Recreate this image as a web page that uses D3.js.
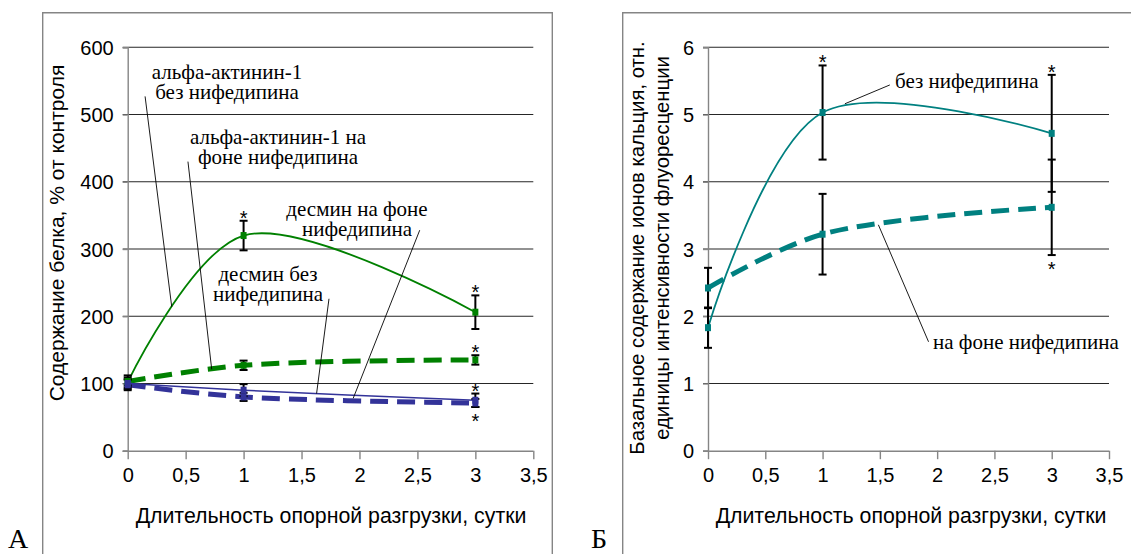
<!DOCTYPE html>
<html>
<head>
<meta charset="utf-8">
<script src="https://cdn.jsdelivr.net/npm/d3@7"></script>
<style>
  body { margin: 0; background: #fff; }
  svg { display: block; }
  .sans { font-family: Arial, "Liberation Sans", sans-serif; }
  .serif { font-family: "Times New Roman", "Liberation Serif", serif; }
</style>
</head>
<body>
<div id="chart"></div>
<script>
// --- data ---
const days = [0, 1, 3];
const xTicks = [0, 0.5, 1, 1.5, 2, 2.5, 3, 3.5];
const xTickLabels = ["0", "0,5", "1", "1,5", "2", "2,5", "3", "3,5"];

// panel A: protein content, % of control
const proteinTicks = [0, 100, 200, 300, 400, 500, 600];
const actininNo = [102, 320, 206];
const actininNoErr = [10, 22, 25];
const actininNif = [103, 127, 135];
const actininNifErr = [6, 7, 7];
const desminNo = [100, 90, 75];
const desminNoErr = [6, 9, 10];
const desminNif = [98, 80, 71];
const desminNifErr = [8, 6, 6];

// panel B: basal calcium, relative fluorescence units
const calciumTicks = [0, 1, 2, 3, 4, 5, 6];
const calciumNo = [1.83, 5.03, 4.72];
const calciumNoErr = [0.3, 0.7, 0.87];
const calciumNif = [2.42, 3.22, 3.62];
const calciumNifErr = [0.3, 0.6, 0.71];

const xTitle = "Длительность опорной разгрузки, сутки";

const W = 1131, H = 554;
const svg = d3.select("#chart").append("svg")
  .attr("width", W).attr("height", H)
  .attr("viewBox", `0 0 ${W} ${H}`);

svg.append("rect").attr("width", W).attr("height", H).attr("fill", "#fff");

const axisGray = "#858585";

function buildPanel(cfg) {
  const x = d3.scaleLinear().domain([0, 3.5]).range([cfg.x0, cfg.x1]);
  const y = d3.scaleLinear().domain(cfg.yDomain).range([450.7, 47.3]);
  const g = svg.append("g");

  // frame
  g.append("path")
    .attr("d", cfg.frame)
    .attr("fill", "none")
    .attr("stroke", axisGray)
    .attr("stroke-width", 1.4);

  // grid lines
  g.selectAll(".grid")
    .data(cfg.yTicks.slice(1))
    .enter()
    .append("line")
    .attr("x1", x(0) - 5)
    .attr("x2", x(3.5))
    .attr("y1", d => y(d))
    .attr("y2", d => y(d))
    .attr("stroke", "#262626")
    .attr("stroke-width", 1.1);

  // y axis
  const yAxis = g.append("g")
    .attr("transform", `translate(${x(0)},0)`)
    .call(d3.axisLeft(y).tickValues(cfg.yTicks).tickSize(5).tickPadding(9).tickFormat(cfg.yFormat));
  yAxis.select(".domain").attr("stroke", axisGray).attr("stroke-width", 1.4);
  yAxis.selectAll(".tick line").attr("stroke", axisGray).attr("stroke-width", 1.4);
  yAxis.selectAll("text")
    .attr("class", "sans")
    .style("font-size", "20px")
    .attr("fill", "#000")
    .attr("dy", "0.36em");

  // x axis
  const xAxis = g.append("g")
    .attr("transform", `translate(0,${y(0)})`)
    .call(d3.axisBottom(x).tickValues(xTicks).tickSize(8.5).tickPadding(9)
      .tickFormat((d, i) => xTickLabels[i]));
  xAxis.select(".domain").attr("stroke", axisGray).attr("stroke-width", 1.4)
    .attr("d", `M${x(0) - 5},0.5H${x(3.5)}`);
  xAxis.selectAll(".tick line").attr("stroke", axisGray).attr("stroke-width", 1.4);
  xAxis.selectAll("text")
    .attr("class", "sans")
    .style("font-size", "20px")
    .attr("fill", "#000");

  // axis titles
  g.append("text")
    .attr("class", "sans")
    .attr("x", cfg.xTitleX)
    .attr("y", 523)
    .attr("text-anchor", "middle")
    .style("font-size", "21.3px")
    .text(xTitle);

  cfg.yTitle.forEach((t, i) => {
    g.append("text")
      .attr("class", "sans")
      .attr("transform", `translate(${cfg.yTitleX[i]},${cfg.yTitleY}) rotate(-90)`)
      .attr("text-anchor", "middle")
      .style("font-size", cfg.yTitleSize)
      .text(t);
  });

  // panel letter
  g.append("text")
    .attr("class", "serif")
    .attr("x", cfg.letterX)
    .attr("y", 548)
    .style("font-size", "28px")
    .text(cfg.letter);

  const line = d3.line()
    .x((d, i) => x(days[i]))
    .y(d => y(d))
    .curve(d3.curveCatmullRom.alpha(0.5));

  // series lines
  cfg.series.forEach(s => {
    g.append("path")
      .datum(s.values)
      .attr("d", line)
      .attr("fill", "none")
      .attr("stroke", s.color)
      .attr("stroke-width", s.width)
      .attr("stroke-dasharray", s.dash || null);
  });

  // error bars
  cfg.series.forEach(s => {
    const eb = g.selectAll(null)
      .data(s.values.map((v, i) => ({ x: days[i], v: v, e: s.err[i] })))
      .enter()
      .append("g")
      .attr("stroke", "#000")
      .attr("stroke-width", 2);
    eb.append("line")
      .attr("x1", d => x(d.x)).attr("x2", d => x(d.x))
      .attr("y1", d => y(d.v + d.e)).attr("y2", d => y(d.v - d.e));
    eb.append("line")
      .attr("x1", d => x(d.x) - 4).attr("x2", d => x(d.x) + 4)
      .attr("y1", d => y(d.v + d.e)).attr("y2", d => y(d.v + d.e));
    eb.append("line")
      .attr("x1", d => x(d.x) - 4).attr("x2", d => x(d.x) + 4)
      .attr("y1", d => y(d.v - d.e)).attr("y2", d => y(d.v - d.e));
  });

  // markers
  cfg.series.forEach(s => {
    g.selectAll(null)
      .data(s.values)
      .enter()
      .append("rect")
      .attr("x", (d, i) => x(days[i]) - 3)
      .attr("y", d => y(d) - 3.5)
      .attr("width", 6)
      .attr("height", 7)
      .attr("fill", s.color);
  });

  // significance asterisks
  cfg.stars.forEach(st => {
    const s = cfg.series[st.series];
    const i = days.indexOf(st.day);
    const above = st.pos === "above";
    const v = above ? s.values[i] + s.err[i] : s.values[i] - s.err[i];
    g.append("text")
      .attr("class", "sans")
      .attr("x", x(st.day))
      .attr("y", y(v) + (above ? 4 : 21))
      .attr("text-anchor", "middle")
      .style("font-size", "20px")
      .text("*");
  });

  // annotations with leader lines
  cfg.notes.forEach(n => {
    g.append("line")
      .attr("x1", x(n.from[0])).attr("y1", y(n.from[1]))
      .attr("x2", x(n.to[0])).attr("y2", y(n.to[1]))
      .attr("stroke", "#000")
      .attr("stroke-width", 0.9);
    const t = g.append("text")
      .attr("class", "serif")
      .attr("text-anchor", n.anchor || "middle")
      .style("font-size", "21px");
    n.lines.forEach((l, k) => {
      t.append("tspan")
        .attr("x", n.tx)
        .attr("y", n.ty + k * 19.5)
        .text(l);
    });
  });
}

buildPanel({
  x0: 127.7, x1: 533.3,
  yDomain: [0, 600], yTicks: proteinTicks, yFormat: d => d,
  frame: "M42.7,556V12.7H552.3V556",
  xTitleX: 331,
  yTitle: ["Содержание белка, % от контроля"],
  yTitleX: [64], yTitleY: 233, yTitleSize: "21px",
  letter: "А", letterX: 8,
  series: [
    { values: actininNo, err: actininNoErr, color: "#008000", width: 1.8 },
    { values: actininNif, err: actininNifErr, color: "#008000", width: 5, dash: "18 9" },
    { values: desminNo, err: desminNoErr, color: "#333399", width: 1.5 },
    { values: desminNif, err: desminNifErr, color: "#333399", width: 5, dash: "18 9" }
  ],
  stars: [
    { series: 0, day: 1, pos: "above" },
    { series: 0, day: 3, pos: "above" },
    { series: 1, day: 3, pos: "above" },
    { series: 2, day: 3, pos: "above" },
    { series: 3, day: 3, pos: "below" }
  ],
  notes: [
    { lines: ["альфа-актинин-1", "без нифедипина"], tx: 227, ty: 79, from: [0.15, 527], to: [0.38, 214] },
    { lines: ["альфа-актинин-1 на", "фоне нифедипина"], tx: 278, ty: 144, from: [0.52, 430], to: [0.725, 121] },
    { lines: ["десмин на фоне", "нифедипина"], tx: 357, ty: 216, from: [2.52, 328], to: [1.946, 78] },
    { lines: ["десмин без", "нифедипина"], tx: 268, ty: 281, from: [1.737, 226], to: [1.63, 85] }
  ]
});

buildPanel({
  x0: 708, x1: 1109,
  yDomain: [0, 6], yTicks: calciumTicks, yFormat: d => d,
  frame: "M622.7,556V12.7H1133",
  xTitleX: 911,
  yTitle: ["Базальное содержание ионов кальция, отн.", "единицы интенсивности флуоресценции"],
  yTitleX: [644, 669], yTitleY: 248, yTitleSize: "20.3px",
  letter: "Б", letterX: 591,
  series: [
    { values: calciumNo, err: calciumNoErr, color: "#008080", width: 1.8 },
    { values: calciumNif, err: calciumNifErr, color: "#008080", width: 5, dash: "18 9" }
  ],
  stars: [
    { series: 0, day: 1, pos: "above" },
    { series: 0, day: 3, pos: "above" },
    { series: 1, day: 3, pos: "below" }
  ],
  notes: [
    { lines: ["без нифедипина"], tx: 895, ty: 88, anchor: "start", from: [1.587, 5.44], to: [1.195, 5.16] },
    { lines: ["на фоне нифедипина"], tx: 933, ty: 349, anchor: "start", from: [1.925, 1.62], to: [1.487, 3.36] }
  ]
});
</script>
</body>
</html>
